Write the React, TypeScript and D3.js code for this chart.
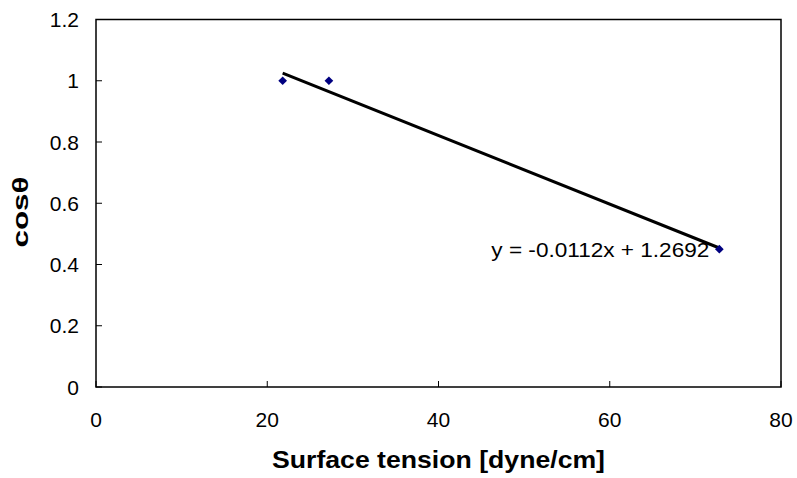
import React from 'react';
import * as d3 from 'd3';

// measured points: surface tension [dyne/cm] vs cos(theta)
const tension = [21.8, 27.2, 72.8];
const cosTheta = [1.0, 1.0, 0.45];
const slope = -0.0112;
const intercept = 1.2692;
const xTicks = [0, 20, 40, 60, 80];
const yTicks = [0, 0.2, 0.4, 0.6, 0.8, 1, 1.2];

const W = 797;
const H = 478;
const margin = { top: 19.5, right: 16, bottom: 91, left: 96 };
const font = '"Liberation Sans", Arial, sans-serif';

export default function App() {
  const x = d3.scaleLinear().domain([0, 80]).range([margin.left, W - margin.right]);
  const y = d3.scaleLinear().domain([0, 1.2]).range([H - margin.bottom, margin.top]);

  const xMin = d3.min(tension) as number;
  const xMax = d3.max(tension) as number;
  const trend = d3.line<number>()
    .x(d => x(d))
    .y(d => y(slope * d + intercept));

  const marker = d3.symbol().type(d3.symbolSquare).size(38)();

  const x0 = x(0), x1 = x(80), y0 = y(0), y1 = y(1.2);
  const last = tension.length - 1;

  return (
    <svg width={W} height={H} style={{ position: 'absolute', left: 0, top: 0, background: '#fff' }}>
      <rect x={x0} y={y1} width={x1 - x0} height={y0 - y1} fill="none" stroke="#000" strokeWidth={1.5} />
      {yTicks.map(t => (
        <g key={'y' + t}>
          <line x1={x0} x2={x0 + 6} y1={y(t)} y2={y(t)} stroke="#000" strokeWidth={1} />
          <text x={x0 - 17} y={y(t)} dy="0.36em" textAnchor="end" fontFamily={font} fontSize={21}>{t}</text>
        </g>
      ))}
      {xTicks.map(t => (
        <g key={'x' + t}>
          <line x1={x(t)} x2={x(t)} y1={y0} y2={y0 - 6} stroke="#000" strokeWidth={1} />
          <text x={x(t)} y={427} textAnchor="middle" fontFamily={font} fontSize={21}>{t}</text>
        </g>
      ))}
      <path d={trend([xMin, xMax]) || ''} fill="none" stroke="#000" strokeWidth={3} />
      {tension.map((t, i) => (
        <path key={i} d={marker || ''} transform={`translate(${x(t)},${y(cosTheta[i])}) rotate(45)`} fill="#000080" />
      ))}
      <text x={x(tension[last]) - 10} y={y(cosTheta[last]) + 8} textAnchor="end"
        fontFamily={font} fontSize={21} textLength={218} lengthAdjust="spacingAndGlyphs">
        y = -0.0112x + 1.2692
      </text>
      <text x={(x0 + x1) / 2} y={468} textAnchor="middle" fontFamily={font} fontSize={24}
        fontWeight="bold" textLength={333} lengthAdjust="spacingAndGlyphs">
        Surface tension [dyne/cm]
      </text>
      <text transform={`translate(28,${212}) rotate(-90)`} textAnchor="middle" fontFamily={font}
        fontSize={22} fontWeight="bold" textLength={71} lengthAdjust="spacingAndGlyphs">
        cosθ
      </text>
    </svg>
  );
}
